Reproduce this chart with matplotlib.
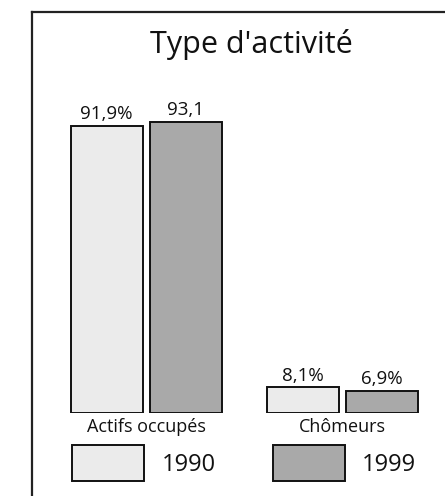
import matplotlib
matplotlib.use("Agg")
import matplotlib.pyplot as plt
from matplotlib.lines import Line2D
import numpy as np

plt.rcParams['font.family'] = ['Open Sans', 'DejaVu Sans']

title = "Type d'activité"
categories = ["Actifs occupés", "Chômeurs"]
years = ["1990", "1999"]
values_1990 = [91.9, 8.1]
values_1999 = [93.1, 6.9]
labels_1990 = ["91,9%", "8,1%"]
labels_1999 = ["93,1", "6,9%"]

W, H = 445, 496
fig = plt.figure(figsize=(W / 100, H / 100), dpi=100)
fig.patch.set_facecolor('white')

ax = fig.add_axes([48 / W, (H - 412.7) / H, 392 / W, 312 / H])
ax.set_xlim(-0.5, 1.5)
ax.set_ylim(0, 100)
ax.axis('off')

x = np.arange(len(categories))
bw = 72 / 196
off = 39.5 / 196
c1990 = '#ebebeb'
c1999 = '#a9a9a9'

b1 = ax.bar(x - off, values_1990, width=bw, color=c1990, edgecolor='#111111', linewidth=1.4, label=years[0])
b2 = ax.bar(x + off, values_1999, width=bw, color=c1999, edgecolor='#111111', linewidth=1.4, label=years[1])

for rect, lab in zip(b1, labels_1990):
    ax.annotate(lab, (rect.get_x() + rect.get_width() / 2, rect.get_height()),
                xytext=(0, 2), textcoords='offset points', ha='center', va='bottom',
                fontsize=13.5, color='#111111')
for rect, lab in zip(b2, labels_1999):
    ax.annotate(lab, (rect.get_x() + rect.get_width() / 2, rect.get_height()),
                xytext=(0, 2), textcoords='offset points', ha='center', va='bottom',
                fontsize=13.5, color='#111111')

for xi, cat in zip(x, categories):
    ax.annotate(cat, (xi, 0), xytext=(0, -3.5), textcoords='offset points',
                ha='center', va='top', fontsize=13, color='#111111')

fig.text(251 / W, 1 - 44 / H, title, ha='center', va='center', fontsize=22, color='#111111')

leg = fig.legend(handles=[b1, b2], labels=years, ncol=2, frameon=False,
                 loc='upper left', bbox_to_anchor=(72 / W, 1 - 445 / H),
                 fontsize=17, handlelength=3.05, handleheight=2.0,
                 handletextpad=0.75, columnspacing=2.4, borderpad=0, borderaxespad=0)
for t in leg.get_texts():
    t.set_color('#111111')

# frame
fig.add_artist(Line2D([32 / W, 32 / W], [0, 1 - 11.5 / H], transform=fig.transFigure, color='#222222', linewidth=1.6))
fig.add_artist(Line2D([32 / W, 1], [1 - 11.5 / H, 1 - 11.5 / H], transform=fig.transFigure, color='#222222', linewidth=1.6))

fig.savefig('out.png', dpi=100, facecolor='white')
